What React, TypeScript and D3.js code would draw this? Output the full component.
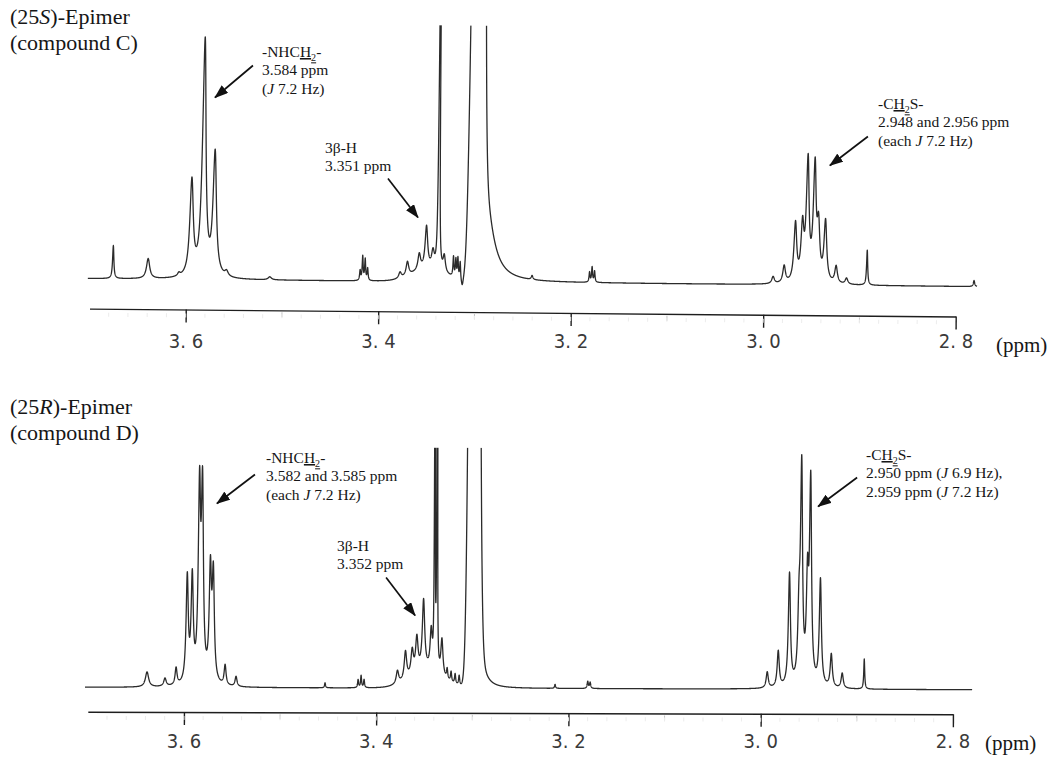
import React, { useEffect, useRef } from "react";
import * as d3 from "d3";

// ---- axis ----
const majorTicks = [3.6, 3.4, 3.2, 3.0, 2.8];
const tickLabels = ["3. 6", "3. 4", "3. 2", "3. 0", "2. 8"];
const minorTicks = [3.5, 3.3, 3.1, 2.9];
const axisSpan = [3.7, 2.8];
const unitLabel = "(ppm)";

// ---- spectra: [ppm, height, half width (ppm), shape 0=lorentz 1=gauss 2=tailing] ----
const spanTop = [3.702, 2.778];
const peaksTop = [
  [3.6758, 33, 0.0008, 0],
  [3.6395, 20, 0.002, 0],
  [3.6075, 3, 0.0015, 0],
  [3.5948, 95, 0.0021, 0],
  [3.5823, 236, 0.0021, 0],
  [3.5709, 122, 0.0021, 0],
  [3.558, 5, 0.002, 0],
  [3.513, 3, 0.002, 0],
  [3.4192, 10, 0.0006, 0],
  [3.4166, 24, 0.0006, 0],
  [3.414, 21, 0.0006, 0],
  [3.4114, 12, 0.0006, 0],
  [3.348, 12, 0.02, 1],
  [3.3777, 6, 0.0016, 0],
  [3.3701, 14, 0.0016, 0],
  [3.3579, 16, 0.0016, 0],
  [3.3506, 42, 0.0016, 0],
  [3.3437, 16, 0.0016, 0],
  [3.3379, 800, 0.0004, 0],
  [3.3319, 16, 0.0014, 0],
  [3.3223, 20, 0.0006, 0],
  [3.3198, 18, 0.0006, 0],
  [3.3177, 20, 0.0006, 0],
  [3.3153, 18, 0.0006, 0],
  [3.313, -8, 0.0012, 0],
  [3.2987, 2000, 0.0045, 1],
  [3.29, 90, 0.0094, 2],
  [3.2405, 4, 0.001, 0],
  [3.1808, 10, 0.0006, 0],
  [3.1782, 15, 0.0006, 0],
  [3.1756, 11, 0.0006, 0],
  [2.9901, 7, 0.0016, 0],
  [2.9787, 17, 0.0016, 0],
  [2.9673, 58, 0.0017, 0],
  [2.96, 52, 0.0017, 0],
  [2.9548, 118, 0.0017, 0],
  [2.9475, 112, 0.0017, 0],
  [2.9434, 50, 0.0017, 0],
  [2.9361, 60, 0.0017, 0],
  [2.9247, 17, 0.0016, 0],
  [2.9138, 6, 0.0016, 0],
  [2.8925, 35, 0.0007, 0],
  [2.7813, 6, 0.0008, 0],
];

const spanBottom = [3.703, 2.78];
const peaksBottom = [
  [3.6385, 15, 0.002, 0],
  [3.6198, 8, 0.0015, 0],
  [3.6083, 17, 0.0012, 0],
  [3.5969, 105, 0.00135, 0],
  [3.5917, 102, 0.00135, 0],
  [3.5844, 185, 0.00135, 0],
  [3.5813, 185, 0.00135, 0],
  [3.5729, 108, 0.00135, 0],
  [3.5698, 104, 0.00135, 0],
  [3.5573, 20, 0.0012, 0],
  [3.5459, 10, 0.0012, 0],
  [3.4533, 5, 0.0006, 0],
  [3.4189, 8, 0.0006, 0],
  [3.4158, 12, 0.0006, 0],
  [3.4127, 8, 0.0006, 0],
  [3.348, 16, 0.02, 1],
  [3.378, 13, 0.0015, 0],
  [3.3697, 28, 0.0015, 0],
  [3.3627, 24, 0.0015, 0],
  [3.3579, 34, 0.0015, 0],
  [3.351, 70, 0.0015, 0],
  [3.343, 38, 0.0013, 0],
  [3.3395, 800, 0.00026, 0],
  [3.337, 800, 0.00026, 0],
  [3.3318, 36, 0.0013, 0],
  [3.3263, 10, 0.0007, 0],
  [3.3222, 10, 0.0007, 0],
  [3.318, 10, 0.0007, 0],
  [3.3138, 10, 0.0007, 0],
  [3.2987, 2000, 0.004, 1],
  [3.292, 30, 0.0064, 2],
  [3.214, 4, 0.0006, 0],
  [3.18, 7, 0.0007, 0],
  [3.1775, 6, 0.0007, 0],
  [2.9933, 16, 0.0013, 0],
  [2.9819, 36, 0.0013, 0],
  [2.9704, 112, 0.0013, 0],
  [2.9605, 62, 0.0013, 0],
  [2.958, 212, 0.0013, 0],
  [2.9517, 95, 0.0013, 0],
  [2.9486, 198, 0.0013, 0],
  [2.9382, 106, 0.0013, 0],
  [2.9267, 33, 0.0013, 0],
  [2.9153, 15, 0.0013, 0],
  [2.8924, 30, 0.0006, 0],
];

// ---- text ----
type Seg = { t: string; i?: boolean; u?: boolean; sub?: boolean };
const titleTop: Seg[][] = [[{ t: "(25" }, { t: "S", i: true }, { t: ")-Epimer" }], [{ t: "(compound C)" }]];
const titleBottom: Seg[][] = [[{ t: "(25" }, { t: "R", i: true }, { t: ")-Epimer" }], [{ t: "(compound D)" }]];

const nhch2: Seg[] = [{ t: "-NHC" }, { t: "H", u: true }, { t: "2", sub: true, u: true }, { t: "-" }];
const ch2s: Seg[] = [{ t: "-C" }, { t: "H", u: true }, { t: "2", sub: true, u: true }, { t: "S-" }];

const notesTop: Seg[][][] = [
  [nhch2, [{ t: "3.584 ppm" }], [{ t: "(" }, { t: "J", i: true }, { t: " 7.2 Hz)" }]],
  [[{ t: "3β-H" }], [{ t: "3.351 ppm" }]],
  [ch2s, [{ t: "2.948 and 2.956 ppm" }], [{ t: "(each " }, { t: "J", i: true }, { t: " 7.2 Hz)" }]],
];
const notesBottom: Seg[][][] = [
  [nhch2, [{ t: "3.582 and 3.585 ppm" }], [{ t: "(each " }, { t: "J", i: true }, { t: " 7.2 Hz)" }]],
  [[{ t: "3β-H" }], [{ t: "3.352 ppm" }]],
  [ch2s, [{ t: "2.950 ppm (" }, { t: "J", i: true }, { t: " 6.9 Hz)," }], [{ t: "2.959 ppm (" }, { t: "J", i: true }, { t: " 7.2 Hz)" }]],
];

// ---- layout ----
const panels = [
  {
    id: "top", peaks: peaksTop, span: spanTop, title: titleTop, notes: notesTop,
    xRange: [186, 956], baseline: 282.5, clipTop: 26, axisY: 312.5, tilt: 0.52,
    labelY: 348, unitX: 996, unitY: 352, titleY: 24,
    notePos: [
      { tip: [3.5699, 185], tail: [38, -32], text: [262, 57] },
      { tip: [3.359, 65], tail: [-30, -39], text: [325, 153] },
      { tip: [2.931, 117], tail: [38, -29], text: [878, 109] },
    ],
  },
  {
    id: "bottom", peaks: peaksBottom, span: spanBottom, title: titleBottom, notes: notesBottom,
    xRange: [184, 953], baseline: 688.5, clipTop: 448, axisY: 713, tilt: 0.16,
    labelY: 748, unitX: 985, unitY: 750, titleY: 413.5,
    notePos: [
      { tip: [3.5657, 185], tail: [38, -29], text: [266, 463] },
      { tip: [3.3596, 73], tail: [-29, -38], text: [337, 551] },
      { tip: [2.9403, 182], tail: [39, -29], text: [866, 460] },
    ],
  },
];

const SERIF = "'Liberation Serif', 'Times New Roman', serif";
const GOTHIC = "'Liberation Sans Narrow', 'DejaVu Sans Condensed', 'Liberation Sans', sans-serif";

function intensity(peaks: number[][], p: number) {
  let s = 0;
  for (const [c, h, w, k] of peaks) {
    const u = (p - c) / w;
    if (k === 1 || (k === 2 && u > 0)) s += h * Math.exp(-Math.LN2 * u * u * (k === 2 ? 9 : 1));
    else s += h / (1 + u * u);
  }
  return s;
}

function writeLines(parent: any, x: number, y: number, lines: Seg[][], size: number, lh: number) {
  lines.forEach((segs, li) => {
    const text = parent.append("text")
      .attr("x", x).attr("y", y + li * lh)
      .attr("font-family", SERIF).attr("font-size", size).attr("fill", "#161616");
    let shifted = false;
    segs.forEach((s) => {
      const ts = text.append("tspan").text(s.t);
      if (s.i) ts.attr("font-style", "italic");
      if (s.u) ts.attr("text-decoration", "underline");
      if (s.sub && !shifted) { ts.attr("dy", size * 0.28).attr("font-size", size * 0.65); shifted = true; }
      else if (!s.sub && shifted) { ts.attr("dy", -size * 0.28); shifted = false; }
    });
  });
}

function drawChart(el: SVGSVGElement) {
  const svg = d3.select(el);
  svg.selectAll("*").remove();
  svg.append("rect").attr("width", 1050).attr("height", 762).attr("fill", "#fff");

  const defs = svg.append("defs");
  defs.append("marker")
    .attr("id", "arrowhead")
    .attr("markerUnits", "userSpaceOnUse")
    .attr("markerWidth", 14).attr("markerHeight", 10)
    .attr("refX", 13).attr("refY", 5)
    .attr("orient", "auto")
    .append("path").attr("d", "M0,0 L14,5 L0,10 Z").attr("fill", "#111");

  panels.forEach((cfg) => {
    const x = d3.scaleLinear().domain([3.6, 2.8]).range(cfg.xRange);
    const y = d3.scaleLinear().domain([0, cfg.baseline - cfg.clipTop]).range([cfg.baseline, cfg.clipTop]);

    const clipId = "clip-" + cfg.id;
    defs.append("clipPath").attr("id", clipId)
      .append("rect").attr("x", 0).attr("y", cfg.clipTop).attr("width", 1050).attr("height", 420);

    // the scan is slightly tilted
    const g = svg.append("g").attr("transform", `rotate(${cfg.tilt}, 520, ${cfg.baseline})`);

    const pts = d3.range(cfg.span[0], cfg.span[1], -0.0001).map((p) => [p, intensity(cfg.peaks, p)]);
    const line = d3.line<number[]>().x((d) => x(d[0])).y((d) => y(d[1]));
    g.append("path")
      .attr("d", line(pts))
      .attr("clip-path", `url(#${clipId})`)
      .attr("fill", "none")
      .attr("stroke", "#2b2b2b")
      .attr("stroke-width", 1.3)
      .attr("stroke-linejoin", "round");

    // axis
    const ax = d3.scaleLinear().domain(axisSpan).range(axisSpan.map((v) => x(v)));
    const axisG = g.append("g").attr("transform", `translate(0,${cfg.axisY})`);
    axisG.call(
      d3.axisBottom(ax).tickValues(majorTicks).tickSize(13).tickSizeOuter(0).tickFormat(() => "")
    );
    axisG.select(".domain").attr("stroke", "#1e1e1e").attr("stroke-width", 1.4);
    axisG.selectAll(".tick line").attr("stroke", "#1e1e1e").attr("stroke-width", 1.4);
    axisG.selectAll(".tick text").remove();
    axisG.selectAll(".minor").data(minorTicks).enter().append("line")
      .attr("x1", (d) => ax(d)).attr("x2", (d) => ax(d))
      .attr("y1", 2).attr("y2", 7)
      .attr("stroke", "#c4c4c4").attr("stroke-width", 1);
    axisG.selectAll(".fine").data(d3.range(3.68, 2.81, -0.02)).enter().append("line")
      .attr("x1", (d) => ax(d)).attr("x2", (d) => ax(d))
      .attr("y1", 4).attr("y2", 8)
      .attr("stroke", "#ececec").attr("stroke-width", 1);

    // tick labels
    svg.append("g").selectAll("text").data(majorTicks).enter().append("text")
      .attr("x", (d) => x(d)).attr("y", cfg.labelY)
      .attr("text-anchor", "middle")
      .attr("font-family", GOTHIC).attr("font-size", 20).attr("fill", "#3a3a3a")
      .text((d, i) => tickLabels[i]);
    svg.append("text")
      .attr("x", cfg.unitX).attr("y", cfg.unitY)
      .attr("font-family", SERIF).attr("font-size", 21).attr("fill", "#161616")
      .text(unitLabel);

    // title
    writeLines(svg, 10, cfg.titleY, cfg.title, 22, 26);

    // annotations
    cfg.notes.forEach((lines, i) => {
      const pos = cfg.notePos[i];
      const tx = x(pos.tip[0]);
      const ty = y(pos.tip[1]);
      svg.append("line")
        .attr("x1", tx + pos.tail[0]).attr("y1", ty + pos.tail[1])
        .attr("x2", tx).attr("y2", ty)
        .attr("stroke", "#111").attr("stroke-width", 1.7)
        .attr("marker-end", "url(#arrowhead)");
      writeLines(svg, pos.text[0], pos.text[1], lines, 15.5, 18.3);
    });
  });
}

export default function App() {
  const ref = useRef<SVGSVGElement>(null);
  useEffect(() => {
    document.body.style.margin = "0";
    if (ref.current) drawChart(ref.current);
  }, []);
  return <svg ref={ref} width={1050} height={762} style={{ display: "block" }} />;
}
